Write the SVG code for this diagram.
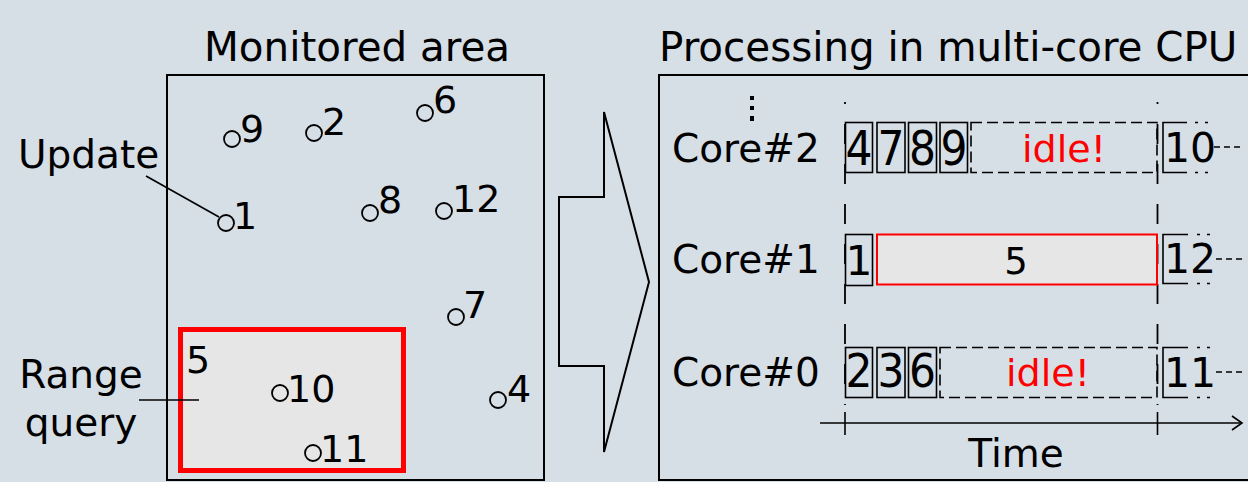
<svg xmlns="http://www.w3.org/2000/svg" width="1248" height="482" viewBox="0 0 1248 482">
<style>
text{font-family:"DejaVu Sans","Liberation Sans",sans-serif;fill:#000}
.t40{font-size:40.4px}
.t39{font-size:39px}
.t38{font-size:38px}
.d50{font-size:48px}
.d46{font-size:46px}
.d41{font-size:41px}
.red{fill:#ff0000}
.pt{fill:none;stroke:#000;stroke-width:1.8}
.frame{fill:none;stroke:#000;stroke-width:2}
.task{fill:none;stroke:#000;stroke-width:1.6}
.idle{fill:none;stroke:#000;stroke-width:1.6;stroke-dasharray:11,5}
.line{fill:none;stroke:#000;stroke-width:1.6}
.vdash{fill:none;stroke:#000;stroke-width:1.8;stroke-dasharray:20,20;stroke-dashoffset:18}
.dots{fill:none;stroke:#000;stroke-width:1.6;stroke-dasharray:3,7}
.cont{fill:none;stroke:#000;stroke-width:1.6;stroke-dasharray:6,4}
</style>
<rect x="0" y="0" width="1248" height="482" fill="#d6dee6"/>

<g id="monitored-area">
  <rect class="frame" x="167" y="75" width="377" height="405"/>
  <text class="t40" x="204" y="61">Monitored area</text>
</g>

<g id="range-query">
  <rect x="180.5" y="329.5" width="223" height="141" fill="#e6e6e6" stroke="#ff0000" stroke-width="5"/>
  <text class="t38" x="186" y="373">5</text>
</g>
<g id="label-update"><text class="t39" x="18" y="168">Update</text></g>
<g id="label-range"><text class="t39" x="81" y="388" text-anchor="middle">Range</text><text class="t39" x="81" y="436" text-anchor="middle">query</text></g>

<g id="p9"><circle class="pt" cx="232" cy="139" r="8"/><text class="t38" x="240" y="142">9</text></g>
<g id="p2"><circle class="pt" cx="314" cy="133" r="8"/><text class="t38" x="322" y="135">2</text></g>
<g id="p6"><circle class="pt" cx="425" cy="113" r="8"/><text class="t38" x="433" y="113">6</text></g>
<g id="p1"><circle class="pt" cx="226" cy="223" r="8"/><text class="t38" x="233" y="229">1</text></g>
<g id="p8"><circle class="pt" cx="370" cy="213" r="8"/><text class="t38" x="378" y="213">8</text></g>
<g id="p12"><circle class="pt" cx="444" cy="211" r="8"/><text class="t38" x="452" y="212">12</text></g>
<g id="p7"><circle class="pt" cx="456" cy="317" r="8"/><text class="t38" x="463" y="318">7</text></g>
<g id="p4"><circle class="pt" cx="498" cy="400" r="8"/><text class="t38" x="507" y="402">4</text></g>
<g id="p10"><circle class="pt" cx="280" cy="393" r="8"/><text class="t38" x="287" y="402">10</text></g>
<g id="p11"><circle class="pt" cx="313" cy="453" r="8"/><text class="t38" x="320" y="462">11</text></g>

<g id="big-arrow">
  <polygon points="559,197 604,197 604,112 649,282 604,452 604,366 559,366" fill="none" stroke="#000" stroke-width="2"/>
</g>

<g id="cpu-panel">
  <rect class="frame" x="659" y="75" width="620" height="405"/>
  <text class="t40" x="659" y="61">Processing in multi-core CPU</text>
  <rect x="750" y="96" width="4" height="4" fill="#000"/>
  <rect x="750" y="106" width="4" height="4" fill="#000"/>
  <rect x="750" y="116" width="4" height="5" fill="#000"/>
</g>

<g id="connectors">
  <line class="line" x1="146" y1="176" x2="219" y2="217"/>
  <line class="line" x1="139" y1="400" x2="199" y2="400"/>
  <line class="vdash" x1="845" y1="102" x2="845" y2="405"/>
  <line class="vdash" x1="1157.5" y1="102" x2="1157.5" y2="405"/>
  <line class="line" x1="820" y1="423" x2="1242" y2="423" stroke-width="2"/>
  <polyline class="line" points="1232,416 1242,423 1232,430" stroke-width="2"/>
  <line class="line" x1="845" y1="412" x2="845" y2="435" stroke-width="2"/>
  <line class="line" x1="1157.5" y1="412" x2="1157.5" y2="435" stroke-width="2"/>
  <text class="t39" x="1016" y="467" text-anchor="middle">Time</text>
</g>

<g id="core2">
  <text class="t39" x="672" y="162">Core#2</text>
  <rect class="task" x="845.5" y="122.5" width="27" height="50"/><text class="d50" x="859" y="165" text-anchor="middle" textLength="27" lengthAdjust="spacingAndGlyphs">4</text>
  <rect class="task" x="877" y="122.5" width="28" height="50"/><text class="d50" x="891" y="165" text-anchor="middle" textLength="27" lengthAdjust="spacingAndGlyphs">7</text>
  <rect class="task" x="908.5" y="122.5" width="28" height="50"/><text class="d50" x="922.5" y="165" text-anchor="middle" textLength="27" lengthAdjust="spacingAndGlyphs">8</text>
  <rect class="task" x="940" y="122.5" width="27.5" height="50"/><text class="d50" x="954" y="165" text-anchor="middle" textLength="27" lengthAdjust="spacingAndGlyphs">9</text>
  <rect class="idle" x="971" y="122.5" width="186" height="50"/>
  <text class="t38 red" x="1064" y="162" text-anchor="middle">idle!</text>
  <path class="task" d="M1187,122.5 H1163 V172.5 H1187"/>
  <path class="dots" d="M1195,122.5 H1212 M1195,172.5 H1212"/>
  <text class="d41" x="1164" y="162">10</text>
  <line class="cont" x1="1214" y1="147" x2="1240" y2="147"/>
</g>

<g id="core1">
  <text class="t39" x="672" y="273">Core#1</text>
  <rect class="task" x="845.5" y="234.5" width="27" height="51"/><text x="859" y="275" text-anchor="middle" font-size="41" textLength="27" lengthAdjust="spacingAndGlyphs">1</text>
  <rect x="877" y="234.5" width="280" height="50" fill="#e6e6e6" stroke="#ff0000" stroke-width="2"/>
  <text x="1016" y="274" text-anchor="middle" font-size="37">5</text>
  <path class="task" d="M1188,234.5 H1163 V283.5 H1188"/>
  <path class="dots" d="M1197,234.5 H1214 M1197,283.5 H1214"/>
  <text class="d41" x="1164" y="273">12</text>
  <line class="cont" x1="1216" y1="259" x2="1242" y2="259"/>
</g>

<g id="core0">
  <text class="t39" x="672" y="386">Core#0</text>
  <rect class="task" x="845.5" y="347.5" width="27" height="50"/><text class="d46" x="859" y="387" text-anchor="middle" textLength="27" lengthAdjust="spacingAndGlyphs">2</text>
  <rect class="task" x="877" y="347.5" width="28" height="50"/><text class="d46" x="891" y="387" text-anchor="middle" textLength="27" lengthAdjust="spacingAndGlyphs">3</text>
  <rect class="task" x="908.5" y="347.5" width="28" height="50"/><text class="d46" x="922.5" y="387" text-anchor="middle" textLength="27" lengthAdjust="spacingAndGlyphs">6</text>
  <rect class="idle" x="940" y="347.5" width="217" height="50"/>
  <text class="t38 red" x="1048" y="386" text-anchor="middle">idle!</text>
  <path class="task" d="M1188,347.5 H1163 V397.5 H1188"/>
  <path class="dots" d="M1197,347.5 H1214 M1197,397.5 H1214"/>
  <text class="d41" x="1164" y="387">11</text>
  <line class="cont" x1="1216" y1="372" x2="1242" y2="372"/>
</g>
</svg>
